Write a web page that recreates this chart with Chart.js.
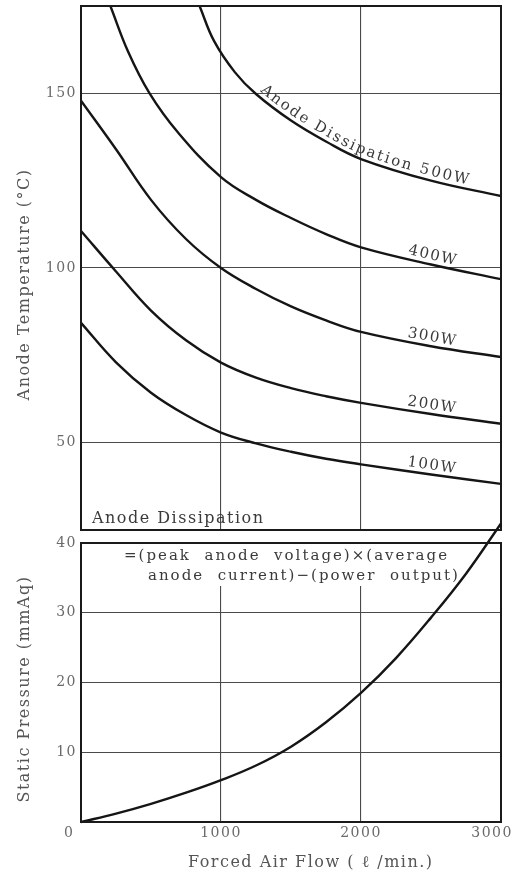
<!DOCTYPE html>
<html><head><meta charset="utf-8">
<script src="https://cdn.jsdelivr.net/npm/chart.js@4.4.0/dist/chart.umd.min.js"></script>
<style>
html,body{margin:0;padding:0;background:#fff;}
#wrap{position:relative;width:515px;height:875px;overflow:hidden;background:#fff;}
.cv{position:absolute;left:0;}
</style></head><body>
<div id="wrap">
<canvas id="c1" class="cv" width="515" height="545" style="top:0"></canvas>
<canvas id="c2" class="cv" width="515" height="360" style="top:515px"></canvas>
</div>
<script>
// ---- data ----
const flowTicks = [0, 1000, 2000, 3000];
const tempTicks = [50, 100, 150];
const pressureTicks = [10, 20, 30, 40];
const seriesNames = ['100W', '200W', '300W', '400W', '500W'];

const flow100 = [0, 250, 500, 750, 1000, 1250, 1500, 1750, 2000, 2500, 3000];
const temp100 = [84.3, 73.0, 64.3, 57.9, 52.9, 49.8, 47.4, 45.4, 43.8, 40.9, 38.2];
const flow200 = [0, 250, 500, 750, 1000, 1250, 1500, 1750, 2000, 2500, 3000];
const temp200 = [110.6, 99.0, 87.8, 79.3, 72.9, 68.6, 65.6, 63.3, 61.4, 58.2, 55.4];
const flow300 = [0, 250, 500, 750, 1000, 1250, 1500, 1750, 2000, 2500, 3000];
const temp300 = [147.9, 134.0, 119.5, 108.3, 100.0, 94.0, 89.0, 85.0, 81.7, 77.6, 74.5];
const flow400 = [210, 336, 490, 693, 1000, 1250, 1500, 1750, 2000, 2500, 3000];
const temp400 = [175, 162, 150, 138.8, 126, 119.5, 114.3, 109.7, 105.9, 101.0, 96.8];
const flow500 = [847, 950, 1100, 1250, 1500, 1750, 2000, 2500, 3000];
const temp500 = [175, 165, 156, 149.8, 142.2, 136.2, 131.2, 125.0, 120.6];

const pressureFlow = [0, 250, 500, 750, 1000, 1250, 1500, 1750, 2000, 2250, 2500, 2750, 3000];
const pressureValues = [0, 1.2, 2.6, 4.2, 6.0, 8.1, 10.8, 14.3, 18.5, 23.5, 29.3, 35.6, 42.8];

const tempFlows = [flow100, flow200, flow300, flow400, flow500];
const tempValues = [temp100, temp200, temp300, temp400, temp500];

// ---- styling ----
const FONT = "'DejaVu Serif', 'Liberation Serif', serif";
const GRID = '#4a4a4a';
const LINE = '#151515';
const TICKC = '#6a6a6a';
const TITLEC = '#555';
const TEXTC = '#3a3a3a';

function toPts(xs, ys) { return xs.map((x, i) => ({ x: x, y: ys[i] })); }

function curveSamples(meta) {
  const pts = meta.data, out = [];
  for (let i = 0; i < pts.length - 1; i++) {
    const a = pts[i], b = pts[i + 1];
    const x0 = a.x, y0 = a.y;
    const x1 = a.cp2x ?? a.x, y1 = a.cp2y ?? a.y;
    const x2 = b.cp1x ?? b.x, y2 = b.cp1y ?? b.y;
    const x3 = b.x, y3 = b.y;
    for (let k = 0; k < 24; k++) {
      const t = k / 24, u = 1 - t;
      out.push({
        x: u*u*u*x0 + 3*u*u*t*x1 + 3*u*t*t*x2 + t*t*t*x3,
        y: u*u*u*y0 + 3*u*u*t*y1 + 3*u*t*t*y2 + t*t*t*y3
      });
    }
  }
  const l = pts[pts.length - 1];
  out.push({ x: l.x, y: l.y });
  let s = 0; out[0].s = 0;
  for (let i = 1; i < out.length; i++) {
    s += Math.hypot(out[i].x - out[i-1].x, out[i].y - out[i-1].y);
    out[i].s = s;
  }
  return out;
}
function atArc(sm, s) {
  for (let i = 1; i < sm.length; i++) {
    if (sm[i].s >= s) {
      const a = sm[i-1], b = sm[i];
      const f = (s - a.s) / ((b.s - a.s) || 1);
      return { x: a.x + (b.x - a.x) * f, y: a.y + (b.y - a.y) * f, ang: Math.atan2(b.y - a.y, b.x - a.x) };
    }
  }
  const a = sm[sm.length - 2], b = sm[sm.length - 1];
  return { x: b.x, y: b.y, ang: Math.atan2(b.y - a.y, b.x - a.x) };
}
function arcAtX(sm, px) {
  for (let i = 1; i < sm.length; i++) {
    if (sm[i].x >= px) {
      const a = sm[i-1], b = sm[i];
      const f = (px - a.x) / ((b.x - a.x) || 1);
      return a.s + (b.s - a.s) * f;
    }
  }
  return sm[sm.length - 1].s;
}

const spacingPlugin = {
  id: 'spacing',
  beforeDraw(chart) { chart.ctx.letterSpacing = '1.5px'; }
};

const framePlugin = {
  id: 'frame',
  afterDraw(chart) {
    const { ctx, chartArea: a } = chart;
    ctx.save();
    ctx.strokeStyle = '#1a1a1a';
    ctx.lineWidth = 2;
    ctx.strokeRect(a.left, a.top, a.right - a.left, a.bottom - a.top);
    ctx.restore();
  }
};

const tempLabelPlugin = {
  id: 'tempLabels',
  afterDatasetsDraw(chart) {
    const { ctx, chartArea: a } = chart;
    const xs = chart.scales.x;
    ctx.save();
    ctx.letterSpacing = '1.5px';
    ctx.fillStyle = TEXTC;
    ctx.font = "15px " + FONT;
    chart.data.datasets.forEach((ds, i) => {
      const sm = curveSamples(chart.getDatasetMeta(i));
      if (ds.label === '500W') {
        const text = 'Anode Dissipation ' + ds.label;
        let s = arcAtX(sm, xs.getPixelForValue(1250));
        ctx.letterSpacing = '0px';
        ctx.textAlign = 'center';
        ctx.textBaseline = 'alphabetic';
        for (const ch of text) {
          const w = ctx.measureText(ch).width + 2.2;
          const p = atArc(sm, s + w / 2);
          ctx.save();
          ctx.translate(p.x, p.y);
          ctx.rotate(p.ang);
          ctx.fillText(ch, 0, -5);
          ctx.restore();
          s += w;
        }
        ctx.letterSpacing = '1.5px';
      } else {
        const p = atArc(sm, arcAtX(sm, xs.getPixelForValue(2500)));
        ctx.save();
        ctx.translate(p.x, p.y);
        ctx.rotate(p.ang);
        ctx.textAlign = 'center';
        ctx.textBaseline = 'alphabetic';
        ctx.fillText(ds.label, 0, -5);
        ctx.restore();
      }
    });
    ctx.font = "16px " + FONT;
    ctx.textAlign = 'left';
    ctx.fillText('Anode Dissipation', a.left + 11, a.bottom - 7);
    ctx.restore();
  }
};

const formulaPlugin = {
  id: 'formula',
  beforeDatasetsDraw(chart) {
    const { ctx, chartArea: a } = chart;
    ctx.save();
    ctx.fillStyle = '#fff';
    ctx.fillRect(a.left + 1, a.top + 1, 380, 42);
    ctx.restore();
  },
  afterDraw(chart) {
    const { ctx, chartArea: a } = chart;
    ctx.save();
    ctx.letterSpacing = '2px';
    ctx.fillStyle = TEXTC;
    ctx.font = "15px " + FONT;
    ctx.textAlign = 'left';
    ctx.textBaseline = 'alphabetic';
    ctx.fillText('=(peak  anode  voltage)\u00D7(average', a.left + 43, a.top + 17);
    ctx.fillText('anode  current)\u2212(power  output)', a.left + 67, a.top + 37);
    ctx.restore();
  }
};

const lineStyle = {
  borderColor: LINE,
  borderWidth: 2.4,
  pointRadius: 0,
  tension: 0.4,
  fill: false
};

// ---- top chart: anode temperature ----
new Chart(document.getElementById('c1'), {
  type: 'line',
  data: {
    datasets: seriesNames.map((name, i) => Object.assign({
      label: name,
      data: toPts(tempFlows[i], tempValues[i])
    }, lineStyle))
  },
  options: {
    responsive: false,
    animation: false,
    events: [],
    layout: { padding: { left: 0, right: 14, top: 6, bottom: 15 } },
    plugins: { legend: { display: false }, tooltip: { enabled: false } },
    scales: {
      x: {
        type: 'linear', min: 0, max: 3000,
        afterBuildTicks: s => { s.ticks = flowTicks.map(v => ({ value: v })); },
        ticks: { display: false },
        grid: { color: GRID, lineWidth: 1.1, drawTicks: false },
        border: { display: false },
        afterFit: s => { s.height = 0; s.paddingLeft = 0; s.paddingRight = 0; }
      },
      y: {
        type: 'linear', min: 25, max: 175,
        afterBuildTicks: s => { s.ticks = tempTicks.map(v => ({ value: v })); },
        ticks: { color: TICKC, font: { family: FONT, size: 14 }, padding: 4 },
        grid: { color: GRID, lineWidth: 1.1, drawTicks: false },
        border: { display: false },
        title: { display: true, text: 'Anode Temperature (\u00B0C)     ', color: TITLEC,
                 font: { family: FONT, size: 16 }, padding: { top: 15, bottom: 0 } },
        afterFit: s => { s.width = 81; s.paddingTop = 0; s.paddingBottom = 0; }
      }
    }
  },
  plugins: [spacingPlugin, tempLabelPlugin, framePlugin]
});

// ---- bottom chart: static pressure ----
new Chart(document.getElementById('c2'), {
  type: 'line',
  data: {
    datasets: [Object.assign({
      label: 'Static Pressure',
      data: toPts(pressureFlow, pressureValues),
      clip: false
    }, lineStyle)]
  },
  options: {
    responsive: false,
    animation: false,
    events: [],
    layout: { padding: { left: 0, right: 14, top: 28, bottom: 0 } },
    plugins: { legend: { display: false }, tooltip: { enabled: false } },
    scales: {
      x: {
        type: 'linear', min: 0, max: 3000,
        afterBuildTicks: s => { s.ticks = flowTicks.map(v => ({ value: v })); },
        ticks: {
          color: TICKC, font: { family: FONT, size: 14 }, padding: 3, maxRotation: 0,
          callback: (v, i, arr) => i === 0 ? v + '    ' : (i === arr.length - 1 ? v + '   ' : String(v))
        },
        grid: { color: GRID, lineWidth: 1.1, drawTicks: false },
        border: { display: false },
        title: { display: true, text: '      Forced Air Flow ( \u2113 /min.)', color: TITLEC,
                 font: { family: FONT, size: 16 }, padding: { top: 0, bottom: 3 } },
        afterFit: s => { s.height = 53; s.paddingLeft = 0; s.paddingRight = 0; }
      },
      y: {
        type: 'linear', min: 0, max: 40,
        afterBuildTicks: s => { s.ticks = pressureTicks.map(v => ({ value: v })); },
        ticks: { color: TICKC, font: { family: FONT, size: 14 }, padding: 4 },
        grid: { color: GRID, lineWidth: 1.1, drawTicks: false },
        border: { display: false },
        title: { display: true, text: 'Static Pressure (mmAq)  ', color: TITLEC,
                 font: { family: FONT, size: 16 }, padding: { top: 15, bottom: 0 } },
        afterFit: s => { s.width = 81; s.paddingTop = 0; s.paddingBottom = 0; }
      }
    }
  },
  plugins: [spacingPlugin, formulaPlugin, framePlugin]
});
</script>
</body></html>
